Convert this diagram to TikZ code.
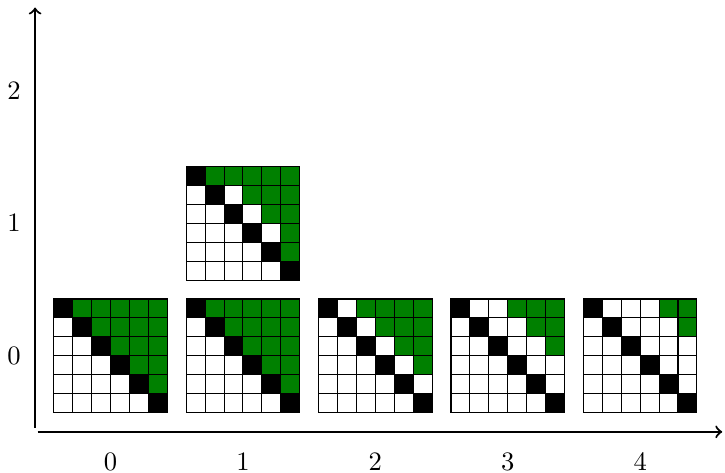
\documentclass[tikz,border=0pt]{standalone}
\usepackage{amsmath,amssymb}
\definecolor{grn}{RGB}{0,128,0}
% 6x6 pattern: black diagonal, green where column-row >= #3
\newcommand{\tri}[3]{\begin{scope}[shift={(#1,#2)}]
\foreach \i in {0,...,5} \foreach \j in {0,...,5}{
  \pgfmathtruncatemacro{\d}{\j-\i}
  \ifnum\d=0 \def\c{black}\else\ifnum\d<#3 \def\c{white}\else\def\c{grn}\fi\fi
  \filldraw[cell,fill=\c] ({(\j-3)/7},{(2-\i)/7}) rectangle ++(1/7,1/7);}
\end{scope}}

\begin{document}
\begin{tikzpicture}[x=1.75cm,y=1.75cm,cell/.style={draw=black,line width=.4pt}]
\useasboundingbox (-0.835,-0.885) rectangle (4.641,2.687);
\draw[thick,->] (-0.55,-0.575)--(4.62,-0.575);
\draw[thick,->] (-0.57,-0.545)--(-0.57,2.63);
\foreach \k in {0,...,4} \node (xl\k) at (\k,-0.8) {$\k$};
\foreach \k in {0,1,2} \node (yl\k) at (-0.73,\k) {$\k$};
\tri{0}{0}{1}
\tri{1}{0}{1}
\tri{2}{0}{2}
\tri{3}{0}{3}
\tri{4}{0}{4}
\tri{1}{1}{2}
\foreach \i/\j in {0/1,4/5} \filldraw[cell,fill=grn,shift={(1,1)}] ({(\j-3)/7},{(2-\i)/7}) rectangle ++(1/7,1/7);
\end{tikzpicture}
\end{document}
